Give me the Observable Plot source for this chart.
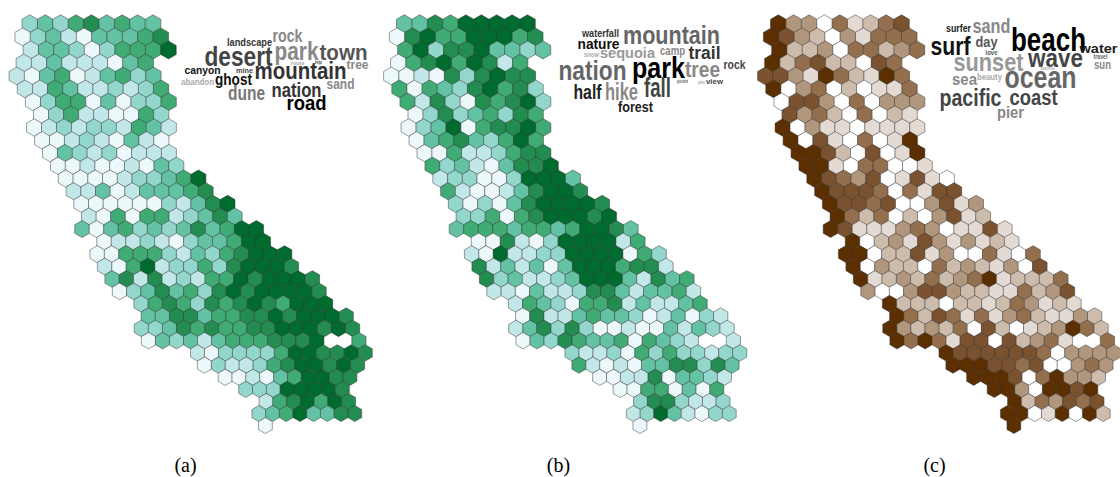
<!DOCTYPE html>
<html><head><meta charset="utf-8">
<script src="https://cdn.jsdelivr.net/npm/d3@7"></script>
<script src="https://cdn.jsdelivr.net/npm/@observablehq/plot@0.6"></script>
<style>html,body{margin:0;padding:0;background:#fff}svg{display:block}</style>
</head><body><div id="chart"></div>
<script>
// first grid column of each hexagon row
const rowStart = [0,-1,0,-1,-1,-1,0,0,0,0,1,1,2,2,3,3,3,4,4,4,5,5,7,7,7,7,11,11,13,14,16,15,16];
// one digit per hexagon: the binned topic strength 0-6; "." is a hole
const topicA = ["232453433","0231033345","1332024446","113111034","1034013423","1143112124","0244030224","024110042","0121221431","001210310","032120111","001001032","0000122346","1130133345","00000021356","10404412353","3034232353466","011210233466","00444213245666","10461224256665","351512144656665","023534256566665","24542545654666","335534455656665","2235454455666565","0323134445556..4","1022224665565","021124566565","0010346655","22266665","1456465","23463355","0"];
const topicB = ["335466666","0564466645","4625563323","045646514","0010525655","4043256452","4152054562","025234254","0236045564","034532464","004112455","423103556","1220026663","4100135665","20203566665","22404566656","3444344346653","005102666614","10611226666042","51313036664551","523112366631534","110311255313341","14320445131134","051134332013021","1352520010031321","0325433404321..1","2112042422122","410103355253","0011503321","00440304","2552112","12631022","0"];
const topicC = ["633041245","6532031444","6223044234","624522054","5531642164","6034020114","0553040333","534204021","6031101111","605104016","665205016","661044001","6543501510","6555404155","65545003513","64240203512","6511134301151","602315313121","66022513004104","60322042321305","612324234612224","300355322114235","62220221243121","642541413421132","6323240520123642","6464155052341..4","6555555403333","666554500343","6665046332","66306656","6243545","66016062","6"];
const greens = ["#edf8fb","#c2e7e8","#93d6cb","#62c2a3","#41ab75","#238c50","#006b2e"];
const browns = ["#ffffff","#e3dad4","#cdbcac","#b0967c","#946f4e","#7a5230","#5c2f00"];
const captions = ["(a)","(b)","(c)"];

const wordsA = ["landscape","rock","desert","park","town","tree","route","trip","mine","canyon","abandon","ghost","mountain","nation","sand","dune","road"];
const sizesA = [10.5,18,28,26,22,12,6,6,8,11.5,9,16,24,20,15,20,21];
const widthsA = [45,30,68,44,48,22,14,7,17,36,33,37,92,50,28,37,40];
const graysA = ["#333","#888","#444","#888","#555","#888","#aaa","#444","#444","#111","#aaa","#111","#333","#333","#888","#777","#000"];
const wordXA = [249,287,238,296,343,357,297,318,244,202,197,233,300,296,340,246,306];
const wordYA = [42,36,57,51,52,65,63,62,70,70,82,79,71,90,84,93,103];

const wordsB = ["waterfall","mountain","nature","snow","sequoia","camp","trail","rock","nation","park","tree","point","pine","view","half","hike","fall","forest"];
const sizesB = [11,26,14,8,15,13,18,12.5,28,30,22,5.5,5,8,21,24,28,15.5];
const widthsB = [37,97,42,15,55,25,32,22,68,53,35,11,7,17,28,33,27,35];
const graysB = ["#333","#666","#111","#aaa","#999","#888","#333","#444","#666","#000","#888","#666","#aaa","#444","#222","#888","#444","#222"];
const wordXB = [600,671,598,591,627,672,704,734,592,658,702,682,701,714,587,621,657,635];
const wordYB = [33,35,44,54,53,50,53,64,71,68,69,81,82,81,92,92,88,107];

const wordsC = ["surfer","sand","day","surf","beach","water","love","travel","sun","sunset","wave","beachlife","sea","beauty","ocean","pacific","coast","pier"];
const sizesC = [11,20.5,14,25,33,13.5,8,6.5,13,25,26,5,17,9,31,23,22.5,17];
const widthsC = [25,38,22,40,75,38,12,14,17,70,55,14,25,25,72,62,48,27];
const graysC = ["#222","#888","#555","#111","#000","#222","#555","#666","#888","#999","#444","#aaa","#888","#aaa","#666","#444","#444","#888"];
const wordXC = [958,991,986,950,1048,1098,991,1100,1102,988,1055,1047,964,989,1040,970,1033,1010];
const wordYC = [28,26,42,46,40,48,52,56,64,62,58,68,79,77,78,98,97,112];

// the hexagon lattice narrows slightly to the south
const spacing = row => 15.4 - 0.055 * row;
const rowY = row => 23.3 + 13.1 * row - 0.017 * row * row;
const hexes = (rows, shift, key) => rows.flatMap((text, row) =>
  Array.from(text).flatMap((c, i) => c === "." ? [] : [{
    x: shift + 181 + (rowStart[row] + i + (row % 2) / 2 - 9.85) * spacing(row),
    y: rowY(row),
    r: spacing(row) / 2 + 0.1,
    level: key + c
  }]));
const cells = [...hexes(topicA, 0, "g"), ...hexes(topicB, 374.5, "g"), ...hexes(topicC, 748.5, "b")];
const table = (w, s, l, g, x, y) => w.map((word, i) => ({word, size: s[i], length: l[i], gray: g[i], x: x[i], y: y[i]}));
const cloud = [...table(wordsA, sizesA, widthsA, graysA, wordXA, wordYA), ...table(wordsB, sizesB, widthsB, graysB, wordXB, wordYB), ...table(wordsC, sizesC, widthsC, graysC, wordXC, wordYC)];
const keys = [..."0123456"];

const chart = Plot.plot({
  width: 1120, height: 477, margin: 0,
  x: {domain: [0, 1120], range: [0, 1120], axis: null},
  y: {domain: [0, 477], range: [0, 477], axis: null},
  r: {type: "identity"},
  color: {type: "ordinal", domain: [...keys.map(k => "g" + k), ...keys.map(k => "b" + k)], range: [...greens, ...browns]},
  style: {background: "#fff"},
  marks: [
    Plot.dot(cells, {x: "x", y: "y", r: "r", symbol: "hexagon", fill: "level", stroke: "#333", strokeWidth: 0.6, strokeOpacity: 0.8, sort: null}),
    Plot.text(cloud, {x: "x", y: "y", text: "word", fontSize: "size", fill: {value: "gray", scale: null}, className: "cloud",
      fontFamily: "Liberation Sans", fontWeight: "bold", textAnchor: "middle", lineAnchor: "middle"}),
    Plot.text(captions, {x: [185, 558, 934], y: [465, 465, 465], text: d => d, fontFamily: "Liberation Serif", fontSize: 20, fill: "#000", lineAnchor: "middle"})
  ]
});
// the cloud's condensed lettering: no narrow face is installed, so squeeze the glyphs
d3.select(chart).selectAll("g.cloud text").attr("textLength", (d, i) => cloud[i].length).attr("lengthAdjust", "spacingAndGlyphs");
document.getElementById("chart").append(chart);
</script></body></html>
